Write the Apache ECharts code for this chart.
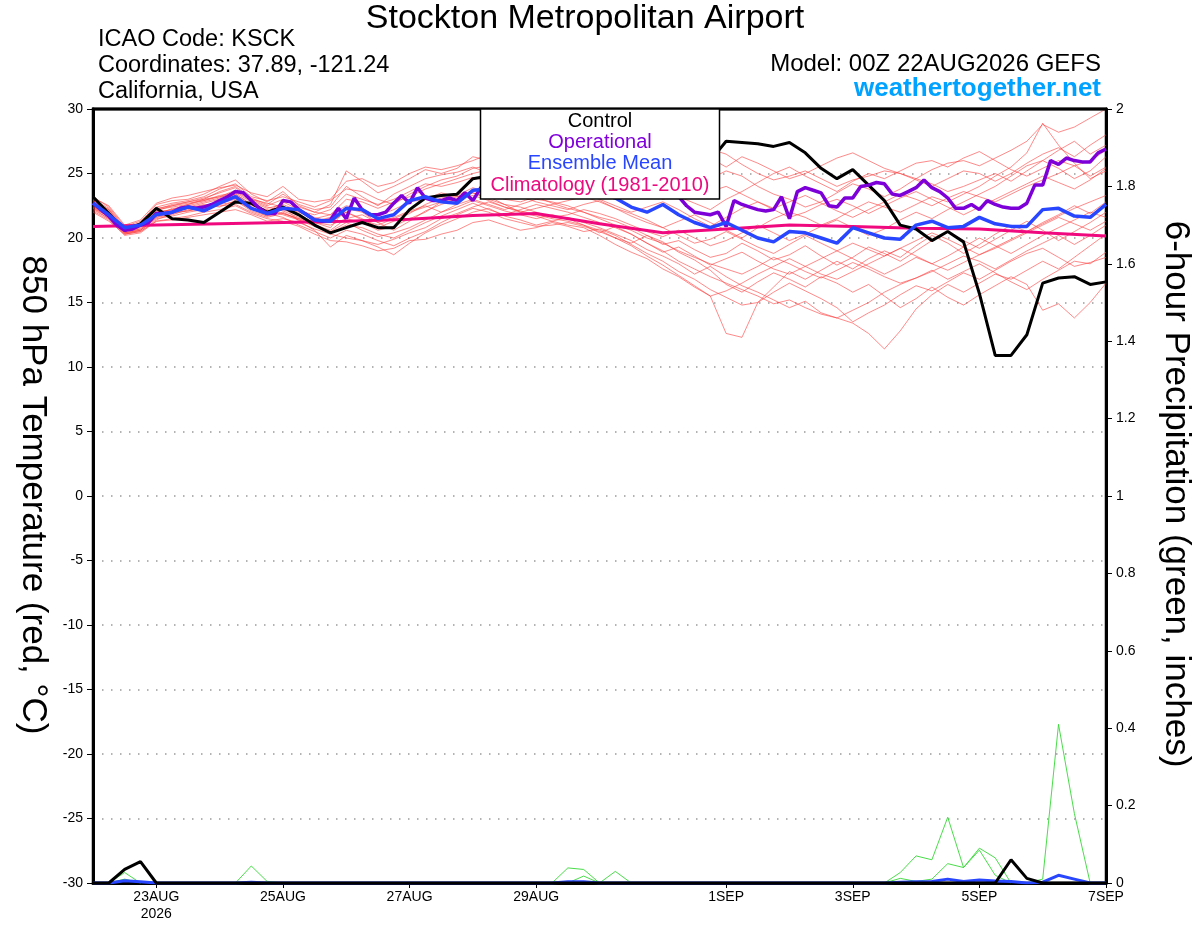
<!DOCTYPE html>
<html>
<head>
<meta charset="utf-8">
<title>Stockton Metropolitan Airport - GEFS 850 hPa</title>
<script src="https://cdn.jsdelivr.net/npm/echarts@6/dist/echarts.min.js"></script>
<style>
html, body { margin: 0; padding: 0; background: #fff; }
#chart-container { width: 1200px; height: 927px; }
</style>
</head>
<body>
<div id="chart-container"></div>
<script>
// hours after 00Z 22AUG2026 where the date ticks sit
const tickHours = [24, 72, 120, 168, 240, 288, 336, 384];
const tickLabels = ['23AUG\n2026', '25AUG', '27AUG', '29AUG', '1SEP', '3SEP', '5SEP', '7SEP'];

// control run, 6-hourly (deg C)
const control = [
    23.2, 21.9, 20.6, 21.1, 22.3, 21.5, 21.4, 21.2, 22.0, 22.8,
    22.7, 22.0, 22.4, 21.8, 21.0, 20.4, 20.8, 21.2, 20.8, 20.8,
    22.2, 23.1, 23.3, 23.4, 24.6, 24.8, 25.1, 24.9, 25.3, 25.0,
    25.4, 25.6, 25.3, 25.7, 25.9, 25.6, 25.9, 26.2, 26.1, 26.0,
    27.5, 27.4, 27.3, 27.1, 27.4, 26.6, 25.4, 24.6, 25.3, 24.1,
    22.9, 21.0, 20.7, 19.8, 20.5, 19.7, 15.7, 10.9, 10.9, 12.5,
    16.5, 16.9, 17.0, 16.4, 16.6
];

// operational run, 3-hourly (deg C)
const operational = [
    22.7, 22.2, 21.7, 21.0, 20.6, 20.7, 21.0, 21.2, 21.9, 21.9,
    22.0, 22.3, 22.4, 22.3, 22.4, 22.6, 22.9, 23.2, 23.6, 23.5,
    22.9, 22.3, 21.9, 21.9, 22.9, 22.8, 22.2, 21.8, 21.4, 21.3,
    21.4, 22.3, 21.5, 23.1, 22.2, 21.8, 21.8, 22.0, 22.7, 23.3,
    22.7, 23.9, 23.1, 22.9, 22.9, 23.1, 22.9, 23.5, 22.9, 23.9,
    24.2, 24.0, 24.4, 24.1, 24.6, 24.3, 24.8, 24.5, 24.2, 24.6,
    24.9, 24.5, 24.2, 23.9, 24.3, 24.0, 23.7, 24.1, 23.8, 23.6,
    23.9, 23.5, 23.4, 23.5, 23.2, 22.5, 22.0, 21.9,
    21.8, 22.0, 20.9, 22.9, 22.6, 22.4, 22.2, 22.1, 22.2, 23.2,
    21.5, 23.6, 23.9, 23.7, 23.5, 22.5, 22.4, 23.1, 23.1, 24.0,
    24.1, 24.3, 24.2, 23.4, 23.3, 23.6, 23.9, 24.5, 23.9, 23.6,
    23.1, 22.3, 22.3, 22.6, 22.2, 22.9, 22.6, 22.4, 22.3, 22.3,
    22.7, 24.1, 24.1, 26.0, 25.7, 26.2, 26.0, 25.9, 25.9, 26.6, 26.9
];

// ensemble mean, 6-hourly (deg C)
const ensMean = [
    22.7, 21.8, 20.8, 21.0, 21.8, 22.0, 22.4, 22.1, 22.7, 23.2,
    22.3, 21.9, 22.3, 22.2, 21.4, 21.3, 22.3, 22.2, 21.5, 21.8,
    22.9, 23.2, 22.8, 22.7, 23.7, 23.8, 23.6, 23.9, 24.1, 23.9,
    23.7, 23.6, 23.5, 23.1, 22.4, 22.0, 22.6, 21.8, 21.2, 20.8,
    21.2, 20.6, 20.0, 19.7, 20.5, 20.4, 20.0, 19.6, 20.8, 20.4,
    20.0, 19.9, 21.0, 21.3, 20.8, 20.9, 21.6, 21.1, 20.9, 20.9,
    22.2, 22.3, 21.7, 21.6, 22.6
];

// 1981-2010 climatology, daily (deg C)
const climatology = [
    20.9, 21.0, 21.1, 21.2, 21.3, 21.45, 21.75, 21.9, 21.1,
    20.4, 20.7, 21.0, 20.9, 20.75, 20.7, 20.4, 20.15
];

// ensemble members, 6-hourly (deg C)
const members = [
    [23.0, 22.3, 20.8, 21.2, 22.6, 22.9, 23.0, 23.4, 24.0, 24.5,
     23.4, 22.8, 23.6, 22.5, 22.0, 22.6, 25.2, 24.4, 23.5, 24.0,
     24.6, 25.3, 25.0, 25.4, 26.3, 26.0, 25.5, 25.8, 25.2, 24.8,
     25.0, 24.6, 24.3, 25.0, 25.6, 25.2, 24.8, 25.6, 26.4, 26.9,
     26.5, 25.7, 25.0, 24.5, 24.8, 25.2, 24.6, 24.0, 24.5, 24.8,
     25.2, 25.0, 24.6, 25.3, 25.8, 26.0, 25.6, 26.2, 26.8, 27.5,
     28.8, 28.2, 28.6, 29.3, 30.0],
    [22.4, 21.8, 20.5, 20.8, 22.0, 22.2, 22.5, 22.8, 23.1, 23.6,
     22.9, 22.4, 22.1, 21.6, 21.2, 20.8, 22.3, 22.0, 21.2, 20.6,
     21.3, 22.1, 22.6, 23.0, 23.5, 23.2, 22.6, 22.0, 21.7, 21.3,
     21.0, 20.8, 20.2, 19.5, 18.9, 18.4, 17.6, 17.0, 16.2, 15.5,
     12.6, 12.3, 15.0, 16.2, 17.4, 16.8, 17.5, 18.2, 17.6, 18.4,
     19.0, 18.5, 19.4, 20.2, 19.6, 18.8, 19.5, 20.3, 21.0, 20.5,
     21.2, 21.8, 22.5, 21.9, 22.8],
    [22.7, 22.0, 20.6, 20.9, 21.8, 22.0, 22.3, 22.6, 22.4, 22.9,
     22.1, 21.7, 22.5, 21.3, 20.6, 19.3, 20.2, 19.8, 19.3, 18.7,
     19.6, 20.4, 21.0, 21.5, 22.0, 22.3, 21.7, 21.4, 21.0, 21.3,
     21.6, 21.2, 20.8, 20.3, 19.8, 19.1, 18.6, 18.0, 17.2, 17.8,
     17.0, 16.3, 15.8, 15.2, 14.6, 15.1, 14.2, 13.8, 13.4, 12.6,
     11.4, 12.8, 14.5, 15.6, 16.4, 15.8, 16.5, 17.2, 16.8, 17.5,
     18.2, 17.6, 18.5, 19.4, 20.3],
    [22.5, 21.6, 20.4, 20.6, 21.5, 21.7, 22.0, 22.2, 22.6, 22.8,
     22.3, 21.9, 21.6, 21.0, 20.5, 20.0, 20.6, 20.3, 19.8, 19.4,
     20.0, 20.5, 21.2, 21.8, 22.3, 22.0, 21.5, 21.2, 20.9, 21.0,
     21.2, 20.9, 20.5, 20.0, 19.6, 20.2, 19.7, 18.9, 18.3, 17.5,
     16.4, 15.8, 16.6, 17.3, 16.8, 16.2, 17.0, 16.5, 15.8, 16.4,
     15.5, 14.6, 15.3, 16.2, 15.4, 14.8, 15.6, 16.3, 17.0, 16.4,
     14.4, 14.9, 13.8, 15.0, 16.5],
    [23.2, 22.4, 20.9, 21.3, 22.4, 22.7, 22.9, 23.2, 23.8, 24.2,
     23.2, 22.9, 23.2, 22.8, 22.4, 22.9, 23.8, 23.6, 23.0, 22.6,
     23.4, 24.0, 24.5, 24.8, 25.4, 25.6, 25.0, 24.6, 24.2, 24.4,
     24.0, 23.7, 23.5, 23.8, 24.2, 23.6, 23.0, 23.4, 24.0, 24.6,
     25.2, 24.8, 24.0, 23.4, 23.0, 22.4, 22.8, 23.5, 24.2, 23.8,
     23.2, 23.8, 24.6, 24.2, 23.6, 24.0, 24.5, 25.0, 24.4, 25.2,
     26.0, 25.4, 24.6, 25.2, 26.3],
    [22.2, 21.5, 20.3, 20.5, 21.4, 21.9, 22.1, 22.4, 22.9, 23.4,
     22.6, 22.0, 22.8, 22.2, 21.6, 21.2, 22.0, 21.5, 20.8, 21.3,
     21.9, 22.6, 23.1, 23.3, 23.9, 23.5, 23.0, 22.8, 23.2, 22.7,
     22.3, 22.0, 21.6, 21.3, 20.8, 20.2, 19.5, 19.8, 19.1, 18.5,
     18.8, 19.6, 19.0, 18.3, 18.7, 19.4, 18.6, 17.9, 18.5, 19.3,
     18.8, 18.2, 19.0, 19.8, 20.5, 19.8, 19.2, 19.9, 20.6, 21.3,
     20.6, 19.8, 20.5, 21.2, 22.0],
    [22.9, 22.1, 20.7, 21.0, 22.1, 22.5, 22.8, 23.1, 23.5, 23.9,
     23.0, 22.5, 23.0, 22.4, 22.0, 21.8, 23.0, 22.8, 22.3, 22.8,
     23.2, 23.8, 24.2, 24.6, 25.0, 25.3, 25.8, 26.2, 25.6, 25.2,
     24.8, 25.3, 25.6, 25.2, 24.6, 24.2, 23.8, 23.2, 22.7, 22.2,
     23.0, 23.6, 24.3, 25.0, 25.5, 24.8, 24.2, 23.6, 24.4, 25.0,
     24.6, 25.2, 25.8, 26.0, 25.5, 26.2, 26.7, 26.0, 25.3, 24.8,
     25.4, 26.0, 25.6, 24.8, 25.5],
    [22.6, 21.9, 20.5, 20.7, 21.7, 22.3, 22.4, 22.7, 23.0, 23.3,
     22.5, 22.2, 21.8, 21.4, 20.9, 20.5, 21.2, 20.6, 20.1, 20.4,
     20.8, 21.4, 22.0, 22.4, 22.9, 22.5, 22.1, 21.8, 21.5, 21.8,
     21.5, 21.0, 20.4, 20.9, 20.3, 19.6, 19.0, 18.2, 17.6, 17.0,
     16.5, 16.0, 15.5, 14.9, 15.2, 14.6, 14.1, 13.8, 14.4, 15.0,
     15.8, 16.4, 16.9, 17.5, 16.8, 17.4, 18.0, 17.3, 16.6, 16.0,
     16.8, 17.5, 18.2, 18.0, 18.9],
    [22.8, 22.2, 20.8, 21.1, 22.3, 22.5, 22.7, 22.9, 23.2, 23.7,
     23.0, 22.7, 22.4, 22.0, 21.5, 21.8, 22.5, 22.2, 21.7, 22.2,
     22.8, 23.0, 23.5, 23.2, 23.6, 24.0, 23.6, 23.2, 22.8, 22.5,
     22.2, 22.6, 22.9, 22.3, 21.7, 21.2, 20.8, 21.3, 21.8, 21.2,
     20.6, 20.0, 20.8, 21.5, 22.0, 21.6, 21.0, 21.5, 22.2, 22.8,
     22.4, 22.0, 22.6, 23.2, 22.8, 23.4, 24.0, 24.8, 25.5, 26.6,
     28.9, 27.2, 25.8, 24.6, 25.2],
    [22.3, 21.7, 20.4, 20.6, 21.6, 21.8, 22.2, 22.5, 22.7, 23.0,
     22.4, 21.8, 22.2, 21.8, 21.2, 21.0, 21.5, 21.2, 20.6, 20.9,
     21.5, 22.0, 22.8, 23.2, 23.5, 23.0, 22.6, 22.4, 22.0, 21.6,
     21.8, 22.2, 21.9, 21.5, 21.0, 20.5, 20.1, 20.6, 20.0, 19.4,
     19.8, 20.4, 21.0, 20.4, 19.8, 20.3, 20.9, 21.4, 20.8, 20.2,
     20.7, 21.4, 22.0, 21.5, 22.2, 22.8, 23.4, 24.0, 24.8, 25.6,
     26.0, 26.8, 27.5, 26.5, 27.2],
    [22.1, 21.4, 20.2, 20.4, 21.3, 21.5, 21.7, 22.0, 22.2, 22.5,
     21.9, 21.5, 21.3, 20.9, 20.3, 19.8, 19.7, 19.4, 19.0, 19.2,
     19.8, 19.9, 20.3, 20.6, 21.2, 21.4, 21.0, 20.6, 20.8, 21.2,
     20.9, 20.5, 20.7, 20.2, 19.5, 18.8, 18.2, 17.4, 16.8, 16.0,
     15.4, 14.8, 15.0, 15.8, 16.5, 15.9, 15.3, 14.6, 13.5, 14.2,
     14.8, 15.6, 16.3, 15.9, 16.6, 17.3, 16.8, 17.5, 18.2, 18.8,
     19.2, 18.5, 17.8, 18.1, 18.5],
    [23.1, 22.5, 21.0, 21.4, 22.7, 23.1, 23.3, 23.6, 23.9, 24.1,
     23.5, 23.2, 24.0, 23.0, 22.8, 23.0, 24.4, 24.6, 24.0, 24.3,
     25.0, 25.5, 25.3, 25.6, 26.0, 26.5, 26.2, 25.8, 26.3, 26.0,
     25.6, 25.2, 25.5, 26.0, 26.3, 25.9, 26.5, 27.0, 26.6, 26.2,
     25.5, 26.3, 25.8, 25.2, 24.6, 25.0, 25.6, 26.2, 26.6, 26.0,
     25.4, 25.0, 24.5, 24.0, 24.6, 25.2, 25.0, 24.4, 25.0, 25.8,
     26.5, 27.0, 26.3, 27.2, 28.0],
    [22.0, 21.3, 20.3, 20.5, 21.3, 21.4, 21.6, 21.8, 22.0, 22.2,
     21.8, 21.3, 21.5, 21.2, 20.7, 20.3, 20.0, 19.8, 19.5, 19.9,
     20.4, 20.8, 21.5, 21.9, 22.4, 22.8, 22.4, 22.0, 22.3, 22.6,
     22.9, 23.2, 22.8, 22.3, 21.9, 21.4, 20.8, 20.2, 19.6, 19.9,
     20.5, 19.9, 19.3, 18.8, 19.5, 20.2, 19.6, 19.0, 18.4, 17.8,
     17.2, 17.8, 18.5, 18.0, 18.6, 19.3, 20.0, 19.4, 18.8, 19.5,
     20.2, 20.8, 21.4, 22.0, 21.6],
    [22.6, 22.0, 20.6, 21.0, 22.0, 22.2, 22.6, 22.9, 23.3, 23.5,
     22.8, 22.3, 22.6, 22.1, 21.8, 22.2, 23.4, 23.0, 22.6, 23.0,
     23.6, 24.2, 24.0, 24.3, 24.7, 24.4, 24.0, 23.6, 23.9, 24.2,
     23.8, 23.4, 23.0, 22.5, 22.0, 22.4, 22.8, 22.2, 21.5, 20.9,
     21.6, 22.3, 22.8, 22.2, 21.6, 22.0, 22.6, 23.0, 22.5, 21.9,
     22.5, 23.1, 23.6, 23.0, 22.4, 21.8, 22.4, 23.0, 23.6, 24.2,
     24.8, 24.3, 23.8, 24.5, 25.4],
    [22.4, 21.6, 20.3, 20.6, 21.6, 22.0, 22.3, 22.5, 22.8, 23.1,
     22.3, 21.7, 22.0, 21.4, 21.0, 20.6, 21.5, 21.8, 21.2, 21.6,
     22.1, 22.5, 22.0, 22.6, 23.0, 22.6, 22.2, 22.6, 23.0, 22.8,
     22.5, 22.0, 21.5, 21.0, 20.6, 20.0, 19.6, 19.0, 18.5, 18.0,
     17.6, 17.2, 17.8, 18.5, 18.0, 17.4, 16.9, 17.5, 18.1, 17.6,
     17.0, 16.5, 16.9, 17.4, 18.0, 18.6, 18.2, 17.6, 18.3, 19.0,
     19.6, 20.2, 19.5, 20.2, 21.0],
    [22.9, 22.2, 20.6, 21.0, 22.2, 22.6, 22.8, 23.0, 23.6, 24.0,
     23.1, 22.6, 23.4, 22.6, 22.2, 22.4, 24.0, 23.2, 22.5, 23.4,
     24.0, 24.6, 24.9, 25.1, 25.5, 25.0, 24.6, 24.9, 25.3, 25.6,
     25.2, 24.9, 24.4, 24.8, 25.2, 24.8, 24.3, 23.8, 23.2, 23.6,
     24.0, 23.4, 22.8, 22.3, 22.8, 23.3, 22.7, 22.1, 21.6, 22.2,
     22.8, 23.4, 23.0, 22.5, 23.1, 23.6, 23.2, 22.8, 23.4, 24.0,
     24.5, 25.0, 25.6, 26.0, 26.8],
    [22.3, 21.5, 20.4, 20.7, 21.8, 22.0, 22.1, 22.3, 22.5, 22.6,
     22.0, 21.6, 21.9, 21.5, 21.0, 20.4, 21.0, 20.8, 20.3, 20.0,
     20.6, 21.2, 21.7, 22.2, 22.7, 22.2, 21.8, 22.2, 22.6, 22.3,
     22.0, 21.6, 21.2, 20.8, 20.3, 19.6, 18.9, 19.3, 18.6, 17.9,
     18.4, 18.9, 18.2, 17.6, 17.2, 17.8, 18.4, 19.0, 19.6, 19.1,
     18.6, 19.2, 19.8, 20.4, 19.9, 19.3, 18.7, 19.2, 19.8, 20.4,
     21.0, 21.6, 21.1, 20.6, 21.3],
    [22.7, 22.0, 20.7, 21.1, 22.2, 22.4, 22.6, 23.0, 23.2, 23.4,
     22.6, 22.1, 21.9, 21.5, 21.3, 21.6, 22.0, 21.4, 21.0, 21.5,
     22.0, 22.4, 22.8, 23.0, 23.3, 22.9, 22.4, 22.1, 21.8, 21.5,
     21.3, 21.0, 20.6, 20.0, 19.4, 18.6, 17.9, 17.1, 16.3, 15.5,
     15.9, 16.5, 17.2, 17.8, 18.4, 17.8, 17.2, 16.8, 17.4, 18.0,
     18.6, 19.2, 18.6, 18.0, 17.5, 18.1, 18.7, 19.3, 19.9, 20.5,
     21.1, 21.7, 22.3, 22.8, 23.3]
];

// 6-hour precipitation (inches), 6-hourly
const precipControl = [
    0, 0, 0.035, 0.055, 0, 0, 0, 0, 0, 0,
    0, 0, 0, 0, 0, 0, 0, 0, 0, 0,
    0, 0, 0, 0, 0, 0, 0, 0, 0, 0,
    0, 0, 0, 0, 0, 0, 0, 0, 0, 0,
    0, 0, 0, 0, 0, 0, 0, 0, 0, 0,
    0, 0, 0, 0, 0, 0, 0, 0, 0.06, 0.012,
    0, 0, 0, 0, 0
];
const precipMean = [
    0, 0, 0.006, 0.003, 0, 0, 0, 0, 0, 0,
    0.002, 0, 0, 0, 0, 0, 0, 0, 0, 0,
    0, 0, 0, 0, 0, 0, 0, 0, 0, 0,
    0.003, 0.003, 0, 0, 0, 0, 0, 0, 0, 0,
    0, 0, 0, 0, 0, 0, 0, 0, 0, 0,
    0, 0.002, 0.003, 0.004, 0.01, 0.004, 0.008, 0.005, 0.004, 0,
    0.002, 0.02, 0.01, 0, 0
];
// member precipitation events: [6-hour step, inches]
const precipMembers = [
    [[1, 0], [2, 0.027], [3, 0]],
    [[1, 0], [2, 0.01], [3, 0]],
    [[9, 0], [10, 0.044], [11, 0.004], [12, 0]],
    [[29, 0], [30, 0.039], [31, 0.035], [32, 0]],
    [[30, 0], [31, 0.018], [32, 0]],
    [[32, 0], [33, 0.03], [34, 0]],
    [[50, 0], [51, 0.027], [52, 0.07], [53, 0.06], [54, 0.17], [55, 0.04], [56, 0.09], [57, 0.065], [58, 0]],
    [[50, 0], [51, 0.012], [52, 0.004], [53, 0.01], [54, 0.05], [55, 0.04], [56, 0.085], [57, 0.02], [58, 0]],
    [[59, 0], [60, 0.01], [61, 0.41], [62, 0.18], [63, 0]]
];

const FONT = 'Liberation Sans, Arial, sans-serif';

var dom = document.getElementById('chart-container');
var myChart = echarts.init(dom, null, { renderer: 'canvas' });

const every6 = arr => arr.map((v, i) => [i * 6, v]);

var series = [];
members.forEach(function (m, i) {
    series.push({
        name: 'member ' + (i + 1),
        type: 'line',
        data: every6(m),
        symbol: 'none',
        silent: true,
        lineStyle: { color: '#ff3b3b', width: 0.8, opacity: 0.75 }
    });
});
precipMembers.forEach(function (p, i) {
    series.push({
        name: 'member precip ' + (i + 1),
        type: 'line',
        yAxisIndex: 1,
        data: p.map(d => [d[0] * 6, d[1]]),
        symbol: 'none',
        silent: true,
        lineStyle: { color: '#35d835', width: 0.9 }
    });
});
series.push(
    {
        name: 'Climatology (1981-2010)',
        type: 'line',
        data: climatology.map((v, i) => [i * 24, v]),
        symbol: 'none',
        lineStyle: { color: '#f0087f', width: 3 }
    },
    {
        name: 'Control',
        type: 'line',
        data: every6(control),
        symbol: 'none',
        lineStyle: { color: '#000', width: 3 }
    },
    {
        name: 'Operational',
        type: 'line',
        data: operational.map((v, i) => [i * 3, v]),
        symbol: 'none',
        lineStyle: { color: '#7d00d8', width: 3.5 }
    },
    {
        name: 'Ensemble Mean',
        type: 'line',
        data: every6(ensMean),
        symbol: 'none',
        lineStyle: { color: '#2846ff', width: 3.5 }
    },
    {
        name: 'Mean precip',
        type: 'line',
        yAxisIndex: 1,
        data: every6(precipMean),
        symbol: 'none',
        lineStyle: { color: '#2846ff', width: 3 }
    },
    {
        name: 'Control precip',
        type: 'line',
        yAxisIndex: 1,
        data: every6(precipControl),
        symbol: 'none',
        lineStyle: { color: '#000', width: 3 }
    }
);

// legend box, drawn over the lines like the original
const legendItems = [
    ['Control', '#000', 121],
    ['Operational', '#8000dc', 142],
    ['Ensemble Mean', '#2846ff', 163],
    ['Climatology (1981-2010)', '#ec0a80', 185]
];

var graphics = [
    { type: 'text', x: 585, y: 19, style: { text: 'Stockton Metropolitan Airport', font: '34px ' + FONT, fill: '#000', textAlign: 'center', textVerticalAlign: 'middle' } },
    { type: 'text', x: 98, y: 40, style: { text: 'ICAO Code: KSCK', font: '23.5px ' + FONT, fill: '#000', textVerticalAlign: 'middle' } },
    { type: 'text', x: 98, y: 66, style: { text: 'Coordinates: 37.89, -121.24', font: '23.5px ' + FONT, fill: '#000', textVerticalAlign: 'middle' } },
    { type: 'text', x: 98, y: 92, style: { text: 'California, USA', font: '23.5px ' + FONT, fill: '#000', textVerticalAlign: 'middle' } },
    { type: 'text', x: 1101, y: 64, style: { text: 'Model: 00Z 22AUG2026 GEFS', font: '24px ' + FONT, fill: '#000', textAlign: 'right', textVerticalAlign: 'middle' } },
    { type: 'text', x: 1101, y: 89, style: { text: 'weathertogether.net', font: 'bold 26px ' + FONT, fill: '#00a2ff', textAlign: 'right', textVerticalAlign: 'middle' } },
    { type: 'text', x: 33, y: 495, rotation: -Math.PI / 2, style: { text: '850 hPa Temperature (red, °C)', font: '35px ' + FONT, fill: '#000', textAlign: 'center', textVerticalAlign: 'middle' } },
    { type: 'text', x: 1176, y: 494, rotation: -Math.PI / 2, style: { text: '6-hour Precipitation (green, inches)', font: '35px ' + FONT, fill: '#000', textAlign: 'center', textVerticalAlign: 'middle' } },
    // top edge of the plot frame
    { type: 'line', z: 100, shape: { x1: 92, y1: 109, x2: 1107, y2: 109 }, style: { stroke: '#000', lineWidth: 3 } },
    { type: 'rect', z: 101, shape: { x: 480.5, y: 109, width: 239, height: 90 }, style: { fill: '#fff', stroke: '#000', lineWidth: 1.5 } }
];
legendItems.forEach(function (it) {
    graphics.push({
        type: 'text', z: 102, x: 600, y: it[2],
        style: { text: it[0], font: '20px ' + FONT, fill: it[1], textAlign: 'center', textVerticalAlign: 'middle' }
    });
});

var option = {
    animation: false,
    backgroundColor: '#fff',
    grid: {
        left: 93, right: 94, top: 109, bottom: 44,
        show: true, borderColor: '#000', borderWidth: 2.5
    },
    xAxis: {
        type: 'value',
        min: 0,
        max: 384,
        splitLine: { show: false },
        axisLine: { onZero: false, lineStyle: { color: '#000', width: 3 } },
        axisTick: { customValues: tickHours, length: 5, lineStyle: { color: '#000', width: 1 } },
        axisLabel: {
            customValues: tickHours,
            margin: 6,
            color: '#000',
            fontFamily: FONT,
            fontSize: 14,
            lineHeight: 17,
            formatter: function (v) {
                var i = tickHours.indexOf(v);
                return i >= 0 ? tickLabels[i] : '';
            }
        }
    },
    yAxis: [
        {
            type: 'value',
            min: -30,
            max: 30,
            interval: 5,
            axisLine: { show: true, lineStyle: { color: '#000', width: 3 } },
            axisTick: { show: true, length: 6, lineStyle: { color: '#000', width: 1 } },
            axisLabel: { margin: 10, color: '#000', fontFamily: FONT, fontSize: 14 },
            splitLine: { show: true, lineStyle: { color: '#9a9a9a', type: [1.5, 7.5], width: 1.5 } }
        },
        {
            type: 'value',
            min: 0,
            max: 2,
            interval: 0.2,
            position: 'right',
            axisLine: { show: true, lineStyle: { color: '#000', width: 3 } },
            axisTick: { show: true, length: 6, lineStyle: { color: '#000', width: 1 } },
            axisLabel: { margin: 10, color: '#000', fontFamily: FONT, fontSize: 14 },
            splitLine: { show: false }
        }
    ],
    graphic: graphics,
    series: series
};

if (option && typeof option === 'object') {
    myChart.setOption(option);
}

window.addEventListener('resize', myChart.resize);
</script>
</body>
</html>
